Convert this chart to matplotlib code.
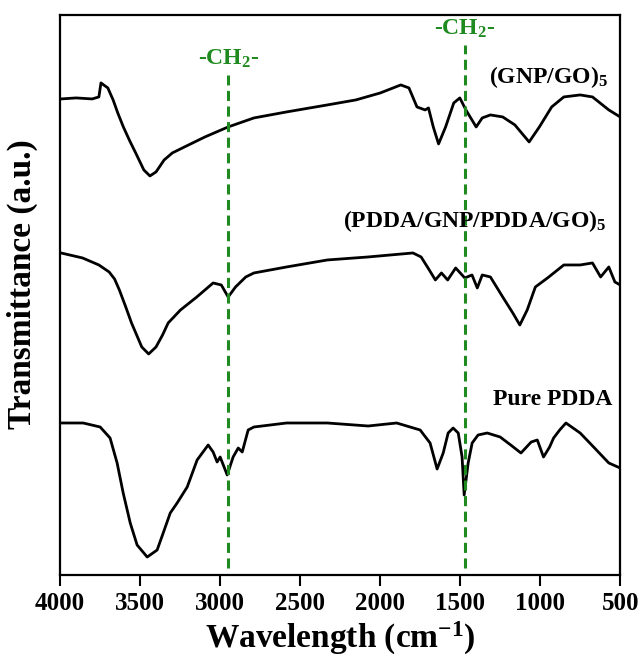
# FTIR spectra of the three films

import matplotlib.pyplot as plt

plt.rcParams["font.family"] = ["Liberation Serif", "DejaVu Serif"]
plt.rcParams["font.weight"] = "bold"
plt.rcParams["mathtext.default"] = "regular"

# (GNP/GO)5
wn_gnp = [3995, 3900, 3800, 3758, 3745, 3702, 3669, 3640, 3605, 3565, 3528, 3477,
          3439, 3401, 3350, 3299, 3223, 3095, 2950, 2789, 2585, 2330, 2152, 1999,
          1871, 1820, 1770, 1719, 1698, 1668, 1635, 1591, 1540, 1502, 1464, 1400,
          1362, 1311, 1234, 1158, 1069, 1005, 928, 852, 750, 673, 571, 500]
tr_gnp = [476, 477, 476, 478, 492, 487, 475, 462, 448, 434, 422, 405,
          399, 403, 415, 422, 428, 438, 448, 457, 463, 470, 475, 482,
          490, 487, 468, 465, 467, 448, 431, 448, 472, 477, 465, 448,
          457, 460, 458, 450, 433, 448, 468, 478, 480, 478, 465, 458]

# (PDDA/GNP/PDDA/GO)5
wn_lbl = [3995, 3860, 3758, 3694, 3660, 3630, 3590, 3554, 3490, 3447, 3401, 3360,
          3325, 3248, 3146, 3044, 2993, 2950, 2904, 2840, 2789, 2585, 2330, 2075,
          1795, 1744, 1693, 1655, 1617, 1578, 1528, 1471, 1426, 1393, 1362, 1311,
          1234, 1171, 1127, 1081, 1030, 954, 852, 750, 673, 622, 571, 533, 500]
tr_lbl = [322, 317, 310, 303, 296, 285, 268, 252, 228, 221, 228, 240,
          252, 265, 278, 292, 290, 278, 288, 298, 302, 308, 315, 318,
          322, 318, 305, 295, 302, 295, 307, 297, 300, 287, 300, 298,
          278, 262, 250, 265, 288, 297, 310, 310, 312, 298, 308, 293, 290]

# Pure PDDA
wn_pdda = [3995, 3856, 3750, 3688, 3644, 3606, 3562, 3519, 3456, 3394, 3356, 3312,
           3269, 3206, 3144, 3075, 3044, 3019, 3000, 2956, 2919, 2887, 2862, 2825,
           2789, 2585, 2330, 2075, 1897, 1750, 1688, 1644, 1606, 1575, 1544, 1512,
           1488, 1475, 1450, 1425, 1388, 1331, 1250, 1184, 1120, 1056, 1018, 979,
           941, 916, 878, 839, 750, 648, 571, 500]
tr_pdda = [152, 152, 148, 137, 112, 82, 52, 30, 18, 25, 42, 62,
           72, 88, 115, 130, 123, 113, 118, 100, 118, 127, 123, 145,
           148, 152, 152, 149, 152, 145, 132, 106, 122, 142, 147, 142,
           118, 80, 112, 132, 140, 142, 138, 130, 122, 133, 135, 118,
           128, 137, 145, 152, 142, 125, 112, 107]

# -CH2- marker lines
ch2_pos = [2950, 1471]
ch2_top = [500, 530]

curve_names = ["(GNP/GO)$_5$", "(PDDA/GNP/PDDA/GO)$_5$", "Pure PDDA"]
name_pos = [(575, 498), (585, 354), (548, 175)]

green = "#1f8a1f"

fig = plt.figure(figsize=(6.4, 6.66), dpi=100)
ax = fig.add_axes([0.094, 0.1366, 0.875, 0.841])

for wn, tr in [(wn_gnp, tr_gnp), (wn_lbl, tr_lbl), (wn_pdda, tr_pdda)]:
    ax.plot(wn, tr, color="black", lw=2.0, zorder=2)

for x, top in zip(ch2_pos, ch2_top):
    ax.plot([x, x], [7, top], color=green, lw=2.2, ls=(0, (3.3, 1.8)), zorder=3)
    ax.text(x, top + 10, "-CH$_2$-", color=green, fontsize=17, fontweight="bold",
            ha="center", va="baseline")

for name, (x, y) in zip(curve_names, name_pos):
    ax.text(x, y, name, fontsize=17, fontweight="bold", ha="right", va="center")

ax.set_xlim(4000, 500)
ax.set_ylim(0, 560)
ax.set_xticks([4000, 3500, 3000, 2500, 2000, 1500, 1000, 500])
ax.set_yticks([])
ax.tick_params(axis="x", direction="out", length=8, width=1.5, labelsize=18, pad=4)
for lab in ax.get_xticklabels():
    lab.set_fontweight("bold")
for sp in ax.spines.values():
    sp.set_linewidth(1.6)

ax.set_xlabel("Wavelength (cm$^{-1}$)", fontsize=24, fontweight="bold", labelpad=4)
ax.set_ylabel("Transmittance (a.u.)", fontsize=24, fontweight="bold")
ax.yaxis.set_label_coords(-0.04, 0.52)

plt.savefig("out.png", dpi=100)
